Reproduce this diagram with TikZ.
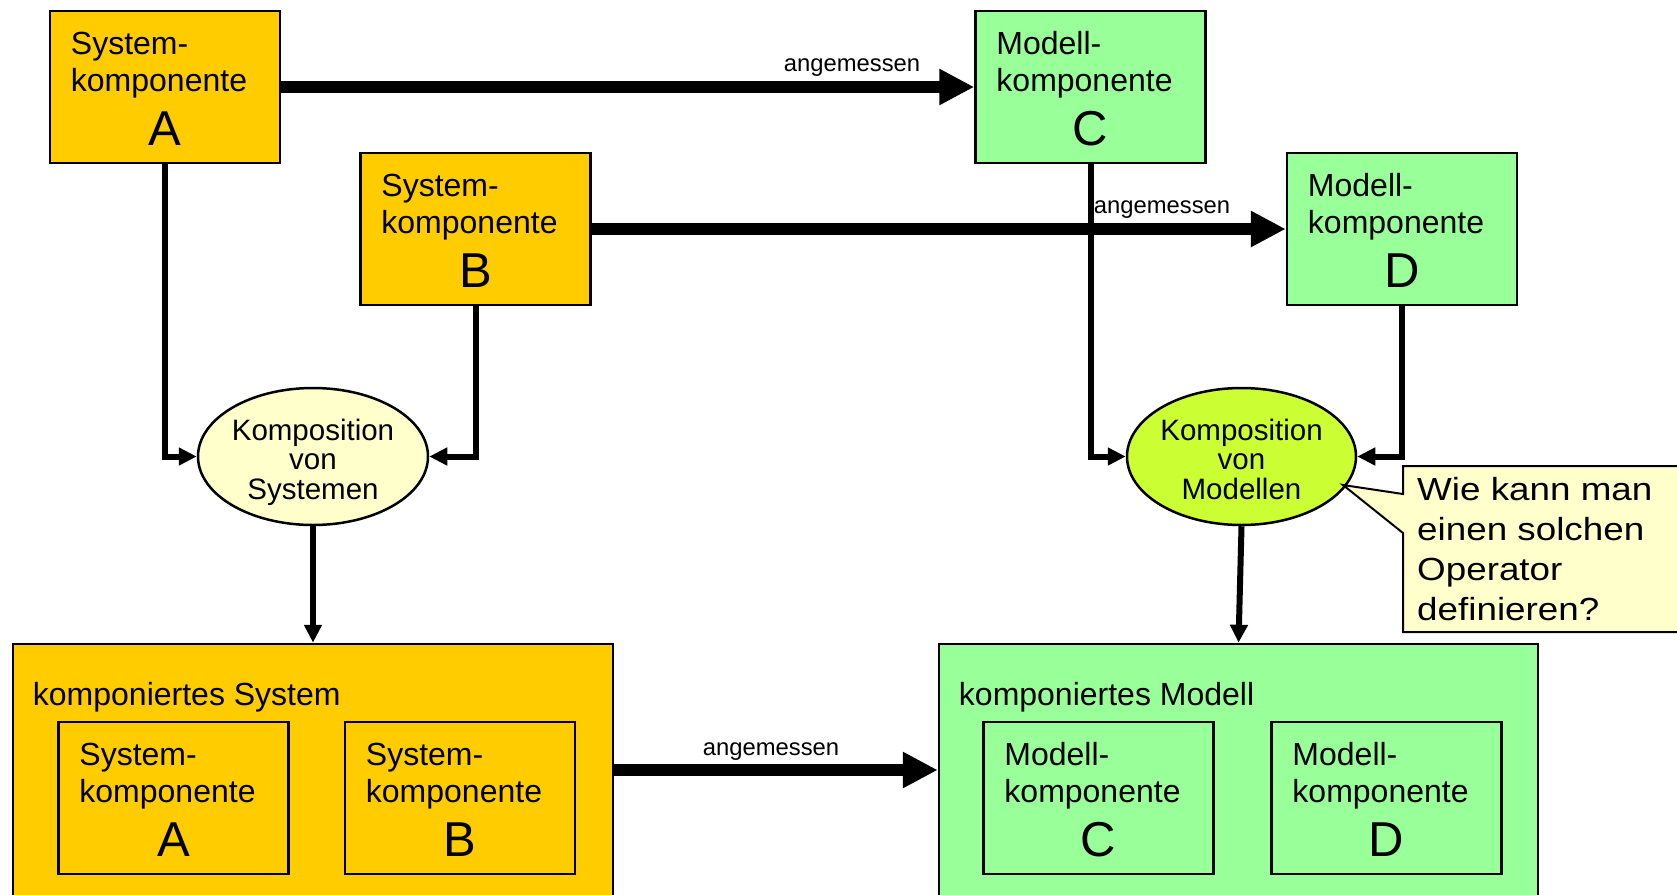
\documentclass[tikz,border=0pt]{standalone}
\usepackage{fontspec}
\setmainfont{Liberation Sans}
\newfontfamily\widefont[FakeStretch=1.15]{Liberation Sans}
\usetikzlibrary{arrows.meta,shapes.geometric,calc}
\definecolor{sysorange}{HTML}{FFCC00}
\definecolor{modgreen}{HTML}{99FF99}
\definecolor{paleyellow}{HTML}{FFFFCC}
\definecolor{limegreen}{HTML}{CCFF33}
\tikzset{
  compbox/.style={draw=black, line width=2.5pt, minimum width=230pt, minimum height=152pt, inner sep=0pt},
  bigbox/.style={draw=black, line width=2.5pt, minimum height=252pt, inner sep=0pt},
  boxline/.style={inner sep=0pt, font=\fontsize{32}{36}\selectfont},
  bigletter/.style={inner sep=0pt, font=\fontsize{49}{55}\selectfont},
  opellipse/.style={ellipse, draw=black, line width=2.5pt, minimum width=230pt, minimum height=137pt, inner sep=0pt},
  optext/.style={inner sep=0pt, align=center, font=\fontsize{29.5}{29.5}\selectfont},
  lbl/.style={inner sep=0pt, font=\fontsize{23.8}{28}\selectfont},
  bigarrow/.style={line width=12pt, -{Triangle[length=35pt,width=34pt]}},
  thinarrow/.style={line width=6pt, -{Triangle[length=18pt,width=17pt]}},
}
\newcommand\mkcomptext[4]{%
  \node[boxline, anchor=base west] (#1-l1) at ($(#1.north west)+(22,45)$) {#2};
  \node[boxline, anchor=base west] (#1-l2) at ($(#1.north west)+(22,82)$) {#3};
  \node[bigletter, anchor=base] (#1-l3) at ($(#1.north)+(0,136)$) {#4};
}
\begin{document}
\begin{tikzpicture}[x=1pt,y=-1pt]
\useasboundingbox (0,0) rectangle (1677,894);

% top component boxes
\node[compbox, fill=sysorange] (A) at (165,87) {};
\node[compbox, fill=sysorange] (B) at (475.5,229) {};
\node[compbox, fill=modgreen] (C) at (1090.5,87) {};
\node[compbox, fill=modgreen] (D) at (1402,229) {};
\mkcomptext{A}{System-}{komponente}{A}
\mkcomptext{B}{System-}{komponente}{B}
\mkcomptext{C}{Modell-}{komponente}{C}
\mkcomptext{D}{Modell-}{komponente}{D}

% composition operators
\node[opellipse, fill=paleyellow] (ES) at (313,456.5) {};
\node[opellipse, fill=limegreen, minimum width=229pt] (EM) at (1241.5,456.5) {};
\node[optext] (ES-t) at ($(ES.center)+(0,5.5)$) {Komposition\\von\\Systemen};
\node[optext] (EM-t) at ($(EM.center)+(0,2.5)$) {Komposition\\von\\Modellen};

% composed boxes
\node[bigbox, fill=sysorange, minimum width=600pt] (KS) at (313,770) {};
\node[bigbox, fill=modgreen, minimum width=599pt] (KM) at (1238.5,770) {};
\node[boxline, anchor=base west] (KS-t) at ($(KS.north west)+(21,63)$) {komponiertes System};
\node[boxline, anchor=base west] (KM-t) at ($(KM.north west)+(21,63)$) {komponiertes Modell};

\node[compbox, fill=sysorange] (IA) at (173.5,798) {};
\node[compbox, fill=sysorange] (IB) at (460,798) {};
\node[compbox, fill=modgreen] (IC) at (1098.5,798) {};
\node[compbox, fill=modgreen] (ID) at (1386.5,798) {};
\mkcomptext{IA}{System-}{komponente}{A}
\mkcomptext{IB}{System-}{komponente}{B}
\mkcomptext{IC}{Modell-}{komponente}{C}
\mkcomptext{ID}{Modell-}{komponente}{D}

% thick "angemessen" arrows
\draw[bigarrow] (A.east) -- (C.west);
\draw[bigarrow] (B.east) -- (D.west);
\draw[bigarrow] (KS.east) -- (KM.west);
\node[lbl, anchor=base] (L1) at (852,71) {angemessen};
\node[lbl, anchor=base] (L2) at (1162,213) {angemessen};
\node[lbl, anchor=base] (L3) at (771,755) {angemessen};

% thin composition arrows
\draw[thinarrow] (A.south) |- (ES.west);
\draw[thinarrow] (B.south) |- (ES.east);
\draw[thinarrow] (C.south) |- (EM.west);
\draw[thinarrow] (D.south) |- (EM.east);
\draw[thinarrow] (ES.south) -- (ES.south |- KS.north);
\draw[thinarrow] (EM.south) -- (KM.north);

% callout
\filldraw[fill=paleyellow, draw=black, line width=2pt, line join=miter]
  (1403,466) -- (1690,466) -- (1690,632) -- (1403,632) -- (1403,533) -- (1343,485) -- (1403,494) -- cycle;
\node[inner sep=0pt, anchor=west, align=left, font=\widefont\fontsize{32}{40}\selectfont] (Q) at (1417,549.5)
  {Wie kann man\\einen solchen\\Operator\\definieren?};
\end{tikzpicture}
\end{document}
